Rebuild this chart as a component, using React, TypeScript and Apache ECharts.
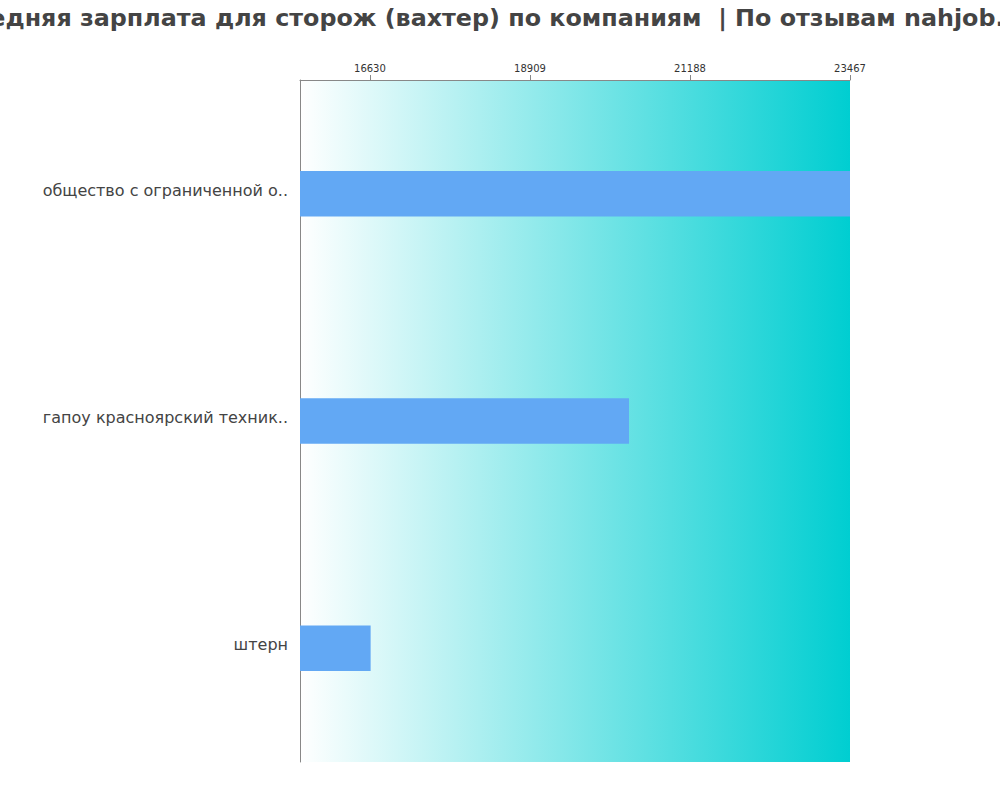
import { useEffect, useRef } from 'react';
import * as echarts from 'echarts';

// ─── Data ─────────────────────────────────────────────────────────────────────

const TITLE = 'Средняя зарплата для сторож (вахтер) по компаниям  | По отзывам nahjob.ru';
const companies = ['общество с ограниченной о..', 'гапоу красноярский техник..', 'штерн'];
const salaries = [23467, 20320, 16640];
const tickValues = [16630, 18909, 21188, 23467];
const axisMin = 15634;
const axisMax = 23467;

// ─── Option ───────────────────────────────────────────────────────────────────

function buildOption(): echarts.EChartsOption {
  return {
    animation: false,
    backgroundColor: '#ffffff',
    textStyle: { fontFamily: 'DejaVu Sans' },
    title: {
      text: TITLE,
      left: 489,
      textAlign: 'center',
      top: 1,
      textStyle: { fontSize: 23.8, fontWeight: 'bold', color: '#444444', fontFamily: 'DejaVu Sans' },
    },
    grid: {
      left: 300,
      right: 150,
      top: 80,
      bottom: 38,
      show: true,
      borderWidth: 0,
      backgroundColor: new echarts.graphic.LinearGradient(0, 0, 1, 0, [
        { offset: 0, color: 'rgba(255,255,255,1)' },
        { offset: 1, color: '#00ced1' },
      ]) as unknown as string,
    },
    xAxis: {
      type: 'value',
      position: 'top',
      min: axisMin,
      max: axisMax,
      axisLine: { show: true, lineStyle: { color: '#888888', width: 1 } },
      axisTick: { show: true, length: 5, lineStyle: { color: '#888888' }, customValues: tickValues },
      axisLabel: {
        color: '#333333',
        fontSize: 10,
        margin: 7,
        customValues: tickValues,
        formatter: (v: number) => String(Math.round(v)),
      },
      splitLine: { show: false },
    },
    yAxis: {
      type: 'category',
      inverse: true,
      data: companies,
      axisLine: { show: true, lineStyle: { color: '#888888', width: 1 } },
      axisTick: { show: false },
      axisLabel: {
        color: '#444444',
        fontSize: 16,
        margin: 12,
        verticalAlign: 'bottom',
        lineHeight: 7,
      },
    },
    series: [
      {
        type: 'bar',
        data: salaries,
        barWidth: '20%',
        itemStyle: { color: '#62a8f4' },
      },
    ],
  };
}

// ─── App ──────────────────────────────────────────────────────────────────────

export default function App() {
  const ref = useRef<HTMLDivElement>(null);

  useEffect(() => {
    if (!ref.current) return;
    const chart = echarts.init(ref.current, null, { renderer: 'svg' });
    chart.setOption(buildOption());
    return () => chart.dispose();
  }, []);

  return (
    <div
      ref={ref}
      style={{ position: 'absolute', left: 0, top: 0, width: 1000, height: 800 }}
    />
  );
}
